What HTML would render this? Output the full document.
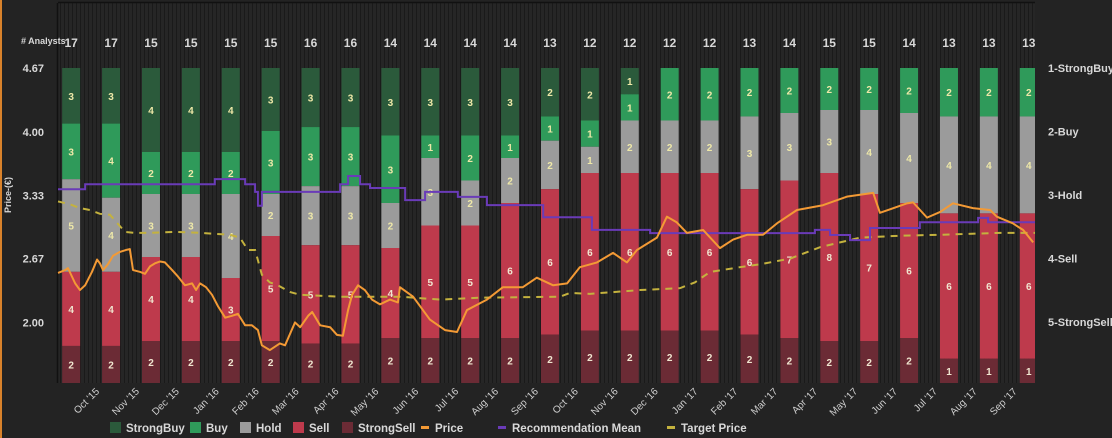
<!DOCTYPE html>
<html><head><meta charset="utf-8"><style>
html,body{margin:0;padding:0;background:#232323;}
#wrap{position:relative;width:1112px;height:438px;overflow:hidden;background:#232323;font-family:"Liberation Sans",sans-serif;}
svg text{font-family:"Liberation Sans",sans-serif;}
</style></head><body>
<div id="wrap">
<svg id="chart" width="1112" height="438" viewBox="0 0 1112 438" xmlns="http://www.w3.org/2000/svg">
<defs>
<pattern id="stripes" width="4" height="10" patternUnits="userSpaceOnUse">
<rect width="4" height="10" fill="#262626"/><rect width="1" height="10" fill="#1a1a1a"/>
</pattern>
</defs>
<rect x="0" y="0" width="2" height="438" fill="#d9822b"/>
<rect x="58" y="3" width="977" height="380" fill="url(#stripes)"/>
<line x1="58" y1="2.5" x2="1035" y2="2.5" stroke="#111" stroke-width="1.5"/>
<line x1="57.5" y1="3" x2="57.5" y2="383" stroke="#111" stroke-width="1.5"/>
<g id="bars"></g><g id="lines"></g><g id="axes"></g><g id="legend"></g>
</svg>
</div>
<script>
const months = ["Oct '15","Nov '15","Dec '15","Jan '16","Feb '16","Mar '16","Apr '16","May '16","Jun '16","Jul '16","Aug '16","Sep '16","Oct '16","Nov '16","Dec '16","Jan '17","Feb '17","Mar '17","Apr '17","May '17","Jun '17","Jul '17","Aug '17","Sep '17"];
const strongBuy = [3,3,4,4,4,3,3,3,3,3,3,3,2,2,1,0,0,0,0,0,0,0,0,0,0];
const buy       = [3,4,2,2,2,3,3,3,3,1,2,1,1,1,1,2,2,2,2,2,2,2,2,2,2];
const hold      = [5,4,3,3,4,2,3,3,2,3,2,2,2,1,2,2,2,3,3,3,4,4,4,4,4];
const sell      = [4,4,4,4,3,5,5,5,4,5,5,6,6,6,6,6,6,6,7,8,7,6,6,6,6];
const strongSell= [2,2,2,2,2,2,2,2,2,2,2,2,2,2,2,2,2,2,2,2,2,2,1,1,1];
const priceTicks = ["4.67","4.00","3.33","2.67","2.00"];
const priceTickVals = [4.67,4.00,3.33,2.67,2.00];
const ratingTicks = ["1-StrongBuy","2-Buy","3-Hold","4-Sell","5-StrongSell"];
const priceT = [-0.05,0.13,0.20,0.38,0.50,0.63,0.80,0.93,1.00,1.08,1.20,1.33,1.50,1.65,1.75,1.83,2.01,2.13,2.26,2.38,2.51,2.63,2.81,2.96,3.13,3.31,3.41,3.51,3.66,3.81,3.96,4.14,4.31,4.46,4.64,4.81,4.96,5.06,5.26,5.51,5.64,5.89,6.02,6.22,6.32,6.52,6.77,6.94,7.09,7.22,7.32,7.47,7.64,7.82,8.02,8.27,8.47,8.52,8.85,9.27,9.65,9.95,10.20,10.70,11.10,11.60,11.95,12.36,12.71,13.03,13.46,13.86,14.21,14.46,14.96,15.21,15.46,15.71,16.12,16.54,16.87,17.22,17.62,17.97,18.47,19.12,19.72,20.38,20.55,21.23,21.38,21.73,22.06,22.38,22.88,23.31,23.48,23.88,24.14,24.39];
const priceV = [2.52,2.55,2.57,2.41,2.34,2.39,2.53,2.66,2.62,2.55,2.61,2.70,2.74,2.76,2.77,2.55,2.53,2.51,2.59,2.62,2.64,2.63,2.55,2.48,2.39,2.41,2.34,2.41,2.37,2.29,2.17,2.05,2.07,2.09,1.97,1.97,1.92,1.76,1.71,1.78,1.76,2.00,1.95,2.07,2.11,1.97,1.95,1.87,1.86,2.13,2.29,2.39,2.34,2.24,2.19,2.24,2.21,2.37,2.27,2.03,1.92,1.90,2.13,2.24,2.37,2.37,2.47,2.39,2.41,2.58,2.63,2.73,2.63,2.76,2.89,3.11,3.05,2.94,2.97,2.78,2.87,2.92,2.92,3.04,3.18,3.23,3.32,3.36,3.15,3.25,3.26,3.10,3.16,3.25,3.20,3.18,3.11,3.04,2.97,2.84];
const recT = [-0.05,0.63,3.88,4.64,4.89,4.96,5.06,7.02,7.22,7.52,7.77,8.65,9.15,9.97,10.70,12.11,13.33,14.79,18.92,19.30,19.80,20.30,21.55,23.01,23.26];
const recV = [2.91,2.83,2.75,2.83,2.95,3.17,2.95,2.83,2.70,2.83,2.89,3.08,2.95,3.03,3.16,3.35,3.55,3.60,3.55,3.63,3.71,3.52,3.43,3.36,3.43];
const targetT = [-0.05,0.25,0.50,0.75,1.00,1.25,1.63,1.88,2.26,2.88,3.51,4.26,4.51,4.71,4.89,5.06,5.26,5.46,5.76,6.02,7.02,8.52,9.52,10.53,12.53,12.78,13.28,14.54,15.54,15.91,16.29,17.04,17.54,18.30,18.55,19.05,19.55,20.05,21.05,22.06,23.56,24.44];
const targetV = [3.27,3.24,3.20,3.18,3.14,3.13,2.95,2.94,2.94,2.95,2.94,2.92,2.89,2.76,2.76,2.50,2.42,2.39,2.32,2.29,2.27,2.27,2.24,2.26,2.27,2.31,2.30,2.34,2.36,2.42,2.53,2.58,2.61,2.67,2.71,2.79,2.84,2.89,2.91,2.92,2.94,2.94];

const NS="http://www.w3.org/2000/svg";
const PL=58, PR=1035, BT=68, BB=383;
function xT(t){return 60+t*39.9;}
function yP(p){return BT+(4.67-p)*95.3;}
function yR(r){return BT+(r-1)*63.5;}
function mk(tag,attrs,parent){const e=document.createElementNS(NS,tag);for(const k in attrs)e.setAttribute(k,attrs[k]);parent.appendChild(e);return e;}
const gB=document.getElementById('bars'),gL=document.getElementById('lines'),gA=document.getElementById('axes'),gG=document.getElementById('legend');
const segColors=["#2b5a3b","#2f9a5a","#9b9b9b","#be3a4c","#6b2b35"];
const segNames=["strongbuy","buy","hold","sell","strongsell"];
const series=[strongBuy,buy,hold,sell,strongSell];
for(let i=0;i<strongBuy.length;i++){
  const tot=series.reduce((a,s)=>a+s[i],0);
  const cx=xT(0.28+i);
  let y=BT;
  for(let k=0;k<5;k++){
    const v=series[k][i];
    const h=(BB-BT)*v/tot;
    const x0=Math.max(PL,cx-9), x1=Math.min(PR,cx+9);
    if(v>0){
      const r=mk('rect',{x:x0,y:y,width:x1-x0,height:h,fill:segColors[k]},gB);
      
      
      const t=mk('text',{x:cx,y:y+h/2+4,'text-anchor':'middle','font-size':'10','font-weight':'bold',fill:k===3||k===4?'#f0e6d0':'#eee8a8'},gB);
      t.textContent=v;
      
      
    }
    y+=h;
  }
  const c=mk('text',{x:cx,y:47,'text-anchor':'middle','font-size':'12','font-weight':'bold',fill:'#d8d8d8'},gA);
  c.textContent=tot;
  
  
}
function pathOf(T,V,yf,step){
  let d='';
  for(let i=0;i<T.length;i++){
    const x=Math.max(PL,Math.min(PR,xT(T[i]))),y=yf(V[i]);
    if(i===0)d+='M'+x+' '+y;
    else{ if(step)d+=' L'+x+' '+yf(V[i-1]); d+=' L'+x+' '+y;}
  }
  if(step)d+=' L'+PR+' '+yf(V[V.length-1]);
  return d;
}
let p=mk('path',{d:pathOf(targetT,targetV,yP,false),fill:'none',stroke:'#c4b23e','stroke-width':'2','stroke-dasharray':'7 6'},gL);


p=mk('path',{d:pathOf(recT,recV,yR,true),fill:'none',stroke:'#6a3bb8','stroke-width':'2'},gL);


p=mk('path',{d:pathOf(priceT,priceV,yP,false),fill:'none',stroke:'#f39a35','stroke-width':'2','stroke-linejoin':'round'},gL);



for(let i=0;i<priceTicks.length;i++){
  const t=mk('text',{x:44,y:yP(priceTickVals[i])+4,'text-anchor':'end','font-size':'11','font-weight':'bold',fill:'#d8d8d8'},gA);
  t.textContent=priceTicks[i];
  
  
  const r=mk('text',{x:1048,y:yR(i+1)+4,'font-size':'11','font-weight':'bold',fill:'#d8d8d8'},gA);
  r.textContent=ratingTicks[i];
  
  
}
let tt=mk('text',{x:21,y:44,'font-size':'9','font-weight':'bold',fill:'#d8d8d8'},gA);
tt.textContent='# Analysts';


tt=mk('text',{x:11,y:195,'text-anchor':'middle','font-size':'9','font-weight':'bold',fill:'#d8d8d8',transform:'rotate(-90 11 195)'},gA);
tt.textContent='Price-(€)';


for(let i=0;i<months.length;i++){
  const x=xT(1+i), y=392;
  const t=mk('text',{x:x,y:y,'text-anchor':'end','font-size':'10',fill:'#cfcfcf',transform:'rotate(-45 '+x+' '+y+')'},gA);
  t.textContent=months[i];
  
  
}
const legItems=[["StrongBuy",110,"#2b5a3b","box"],["Buy",190,"#2f9a5a","box"],["Hold",240,"#9b9b9b","box"],["Sell",293,"#be3a4c","box"],["StrongSell",342,"#6b2b35","box"],["Price",419,"#f39a35","line"],["Recommendation Mean",496,"#6a3bb8","line"],["Target Price",665,"#c4b23e","line"]];
for(const it of legItems){
  const g=mk('g',{},gG);
  
  
  if(it[3]==='box')mk('rect',{x:it[1],y:422,width:11,height:11,fill:it[2]},g);
  else mk('rect',{x:it[1]+2,y:426,width:8,height:3,fill:it[2]},g);
  const t=mk('text',{x:it[1]+16,y:432,'font-size':'11.5','font-weight':'bold',fill:'#d8d8d8'},g);
  t.textContent=it[0];
}
</script>
</body></html>
